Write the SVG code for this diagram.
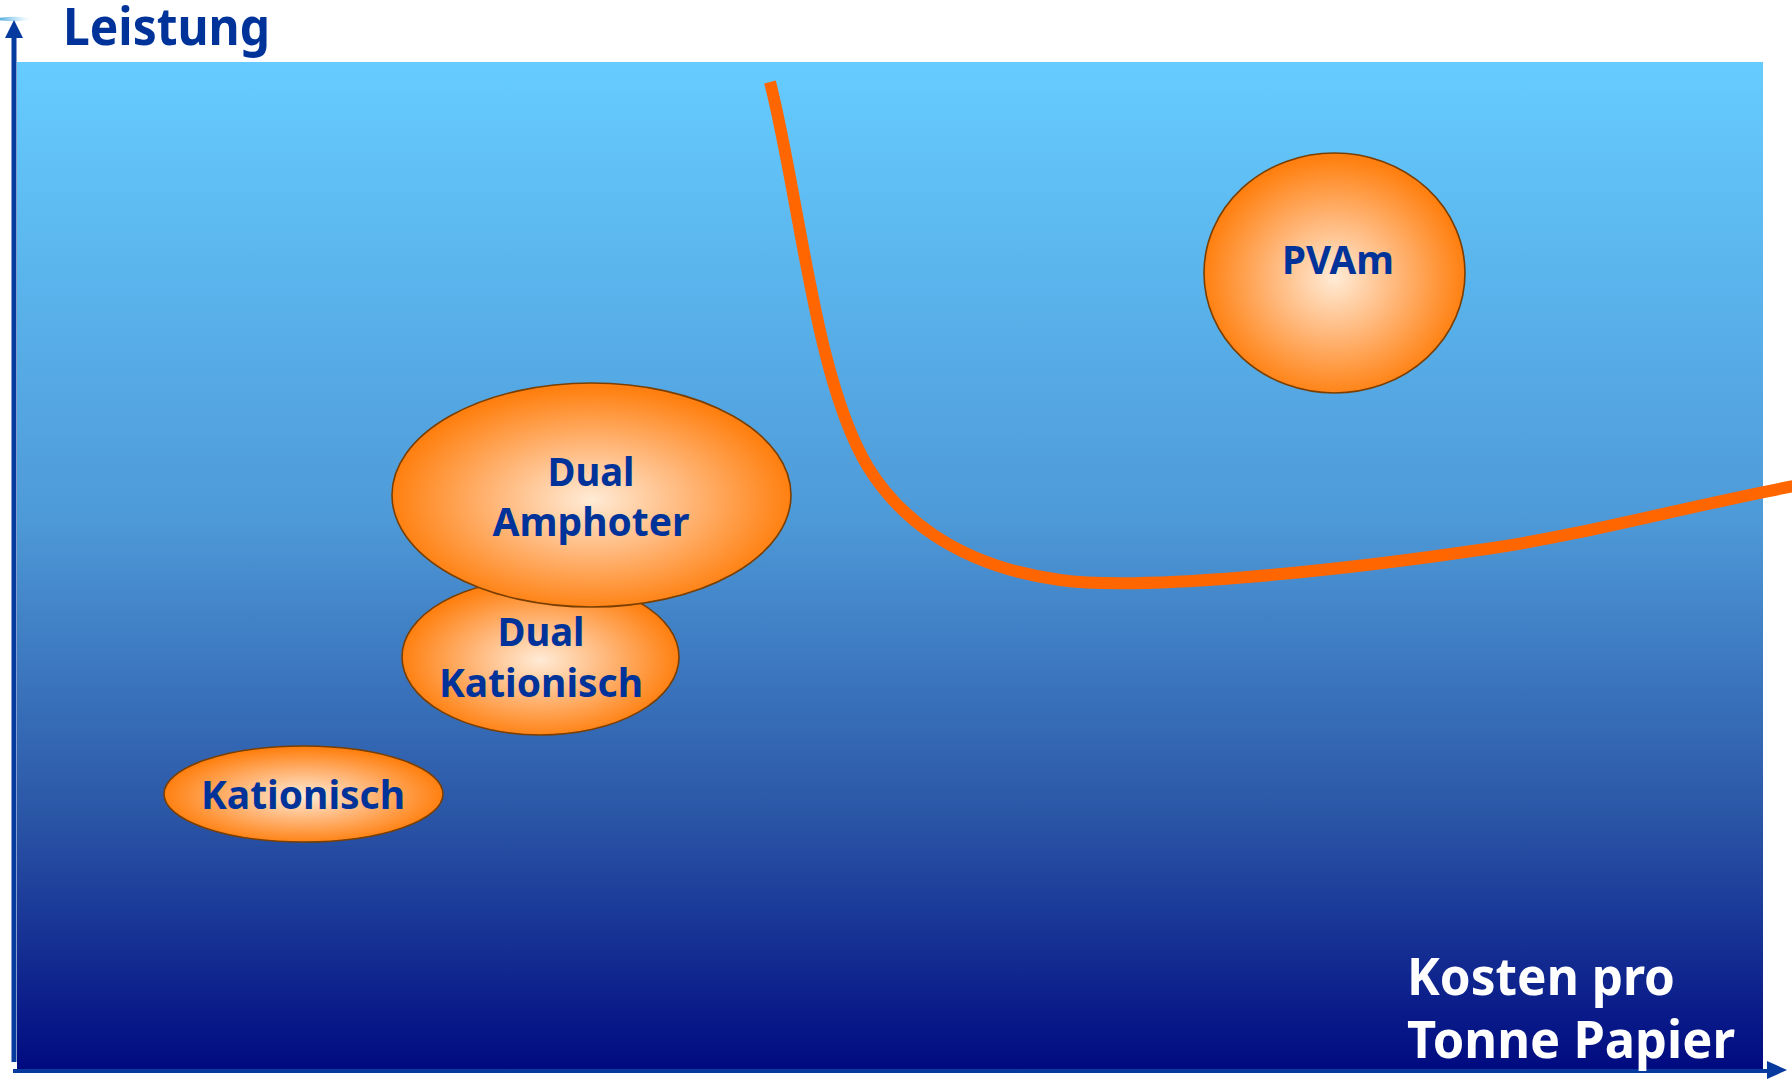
<svg xmlns="http://www.w3.org/2000/svg" width="1792" height="1080" viewBox="0 0 1792 1080">
  <defs>
    <linearGradient id="bg" x1="0" y1="0" x2="0" y2="1">
      <stop offset="0" stop-color="#66CCFF"/>
      <stop offset="0.45" stop-color="#4E9AD8"/>
      <stop offset="0.75" stop-color="#2A55A6"/>
      <stop offset="1" stop-color="#000A80"/>
    </linearGradient>
    <radialGradient id="orb" cx="0.5" cy="0.52" r="0.5">
      <stop offset="0" stop-color="#FFEBD6"/>
      <stop offset="0.5" stop-color="#FFB576"/>
      <stop offset="1" stop-color="#FF8010"/>
    </radialGradient>
    <linearGradient id="sw" x1="0" y1="0" x2="1" y2="0">
      <stop offset="0" stop-color="#3FA0D8"/>
      <stop offset="1" stop-color="#9ADCF8" stop-opacity="0"/>
    </linearGradient>
    <style>
      .orb { fill: url(#orb); stroke: #7A3F00; stroke-width: 1.6; }
      .lbl { font-family: "Noto Sans", "DejaVu Sans", sans-serif; font-weight: bold; font-size: 40px; fill: #003399; text-anchor: middle; }
      .axis { stroke: #063A9E; fill: none; }
      .head { fill: #063A9E; }
      .big { font-family: "Noto Sans", "DejaVu Sans", sans-serif; font-weight: bold; font-size: 52px; }
    </style>
  </defs>

  <rect x="0" y="0" width="1792" height="1080" fill="#FFFFFF"/>
  <rect id="background" x="17" y="62" width="1746" height="1009" fill="url(#bg)"/>

  <g id="axes">
    <ellipse cx="14" cy="19" rx="17" ry="2.2" fill="url(#sw)"/>
    <line class="axis" x1="14" y1="1062" x2="14" y2="34" stroke-width="5"/>
    <polygon class="head" points="14,20 5,38 23,38"/>
    <line class="axis" x1="13" y1="1071" x2="1770" y2="1071" stroke-width="4"/>
    <polygon class="head" points="1787,1070 1767,1061 1767,1079"/>
    <text x="63" y="45" class="big" fill="#003399" textLength="207" lengthAdjust="spacingAndGlyphs">Leistung</text>
    <text x="1407" y="995" class="big" fill="#FFFFFF" textLength="268" lengthAdjust="spacingAndGlyphs">Kosten pro</text>
    <text x="1407" y="1058" class="big" fill="#FFFFFF" textLength="328" lengthAdjust="spacingAndGlyphs">Tonne Papier</text>
  </g>

  <g id="connectors">
    <path d="M770,82 C800,200 815,380 868,467 C895,511 950,565 1060,580 C1140,591 1330,572 1486,549 C1590,534 1700,503 1800,485" fill="none" stroke="#FF6600" stroke-width="12"/>
  </g>

  <g id="node-pvam">
    <ellipse class="orb" cx="1334.5" cy="273" rx="130.5" ry="120"/>
    <text class="lbl" x="1338" y="274" textLength="112" lengthAdjust="spacingAndGlyphs">PVAm</text>
  </g>

  <g id="node-kationisch">
    <ellipse class="orb" cx="303.5" cy="794" rx="139.5" ry="48"/>
    <text class="lbl" x="303" y="809" textLength="204" lengthAdjust="spacingAndGlyphs">Kationisch</text>
  </g>

  <g id="node-dual-kationisch">
    <ellipse class="orb" cx="540.5" cy="657" rx="138.5" ry="78"/>
    <text class="lbl" x="541" y="646" textLength="87" lengthAdjust="spacingAndGlyphs">Dual</text>
    <text class="lbl" x="541" y="697" textLength="204" lengthAdjust="spacingAndGlyphs">Kationisch</text>
  </g>

  <g id="node-dual-amphoter">
    <ellipse class="orb" cx="591.5" cy="495" rx="199.5" ry="112"/>
    <text class="lbl" x="591" y="486" textLength="87" lengthAdjust="spacingAndGlyphs">Dual</text>
    <text class="lbl" x="591" y="536" textLength="197" lengthAdjust="spacingAndGlyphs">Amphoter</text>
  </g>
</svg>
